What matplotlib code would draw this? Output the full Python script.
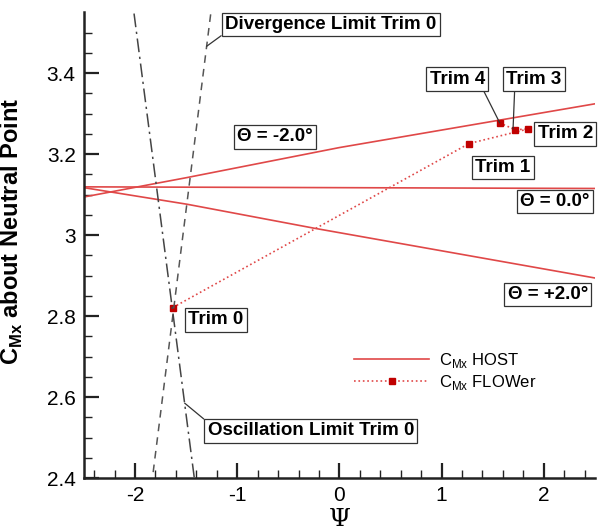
import matplotlib.pyplot as plt
import numpy as np

plt.rcParams['font.family'] = ['Liberation Sans', 'DejaVu Sans']
plt.rcParams['mathtext.fontset'] = 'custom'
plt.rcParams['mathtext.rm'] = 'Liberation Sans'
plt.rcParams['mathtext.bf'] = 'Liberation Sans:bold'
plt.rcParams['axes.unicode_minus'] = False

# HOST curves for the three collective settings
psi_m2 = [-2.5, -1.49, 0.0, 2.5]
cmx_m2 = [3.094, 3.142, 3.216, 3.324]
psi_0 = [-2.5, 2.5]
cmx_0 = [3.119, 3.115]
psi_p2 = [-2.5, -1.49, -0.25, 2.5]
cmx_p2 = [3.117, 3.076, 3.017, 2.894]

# FLOWer trim iterations 0..4
psi_flower = [-1.63, 1.27, 1.85, 1.72, 1.57]
cmx_flower = [2.821, 3.226, 3.262, 3.260, 3.277]

# stability limits (Trim 0)
psi_div = [-1.26, -1.83]
cmx_div = [3.545, 2.40]
psi_osc = [-2.01, -1.42]
cmx_osc = [3.547, 2.40]

red = '#e04848'

fig = plt.figure(figsize=(6.02, 5.31), dpi=100)
ax = fig.add_axes([0.1395, 0.0998, 0.8485, 0.877])

ax.plot(psi_m2, cmx_m2, color=red, lw=1.2, label=r'C$_{\mathregular{Mx}}$ HOST')
ax.plot(psi_0, cmx_0, color=red, lw=1.2)
ax.plot(psi_p2, cmx_p2, color=red, lw=1.2)
ax.plot(psi_flower, cmx_flower, color=red, lw=1.2, ls=':', marker='s', ms=4.5,
        mfc='#c00000', mec='#c00000', label=r'C$_{\mathregular{Mx}}$ FLOWer')
ax.plot(psi_div, cmx_div, color='#555555', lw=1.1, ls=(0, (5, 4)))
ax.plot(psi_osc, cmx_osc, color='#444444', lw=1.1, ls=(0, (9, 3, 1.5, 3)))

box = dict(boxstyle='square,pad=0.18', fc='white', ec='#333333', lw=0.9)
arrow = dict(arrowstyle='-', color='#333333', lw=0.9, shrinkA=0, shrinkB=0)

# label text, text position, target point (None = no leader), alignment
labels = ['Divergence Limit Trim 0', 'Oscillation Limit Trim 0',
          '\u0398 = -2.0\u00b0', '\u0398 = 0.0\u00b0', '\u0398 = +2.0\u00b0',
          'Trim 0', 'Trim 1', 'Trim 2', 'Trim 3', 'Trim 4']
text_xy = [(-1.12, 3.520), (-1.29, 2.517),
           (-1.0, 3.243), (2.11, 3.083), (2.04, 2.853),
           (-1.21, 2.791), (1.60, 3.167), (2.21, 3.250), (1.906, 3.385), (1.153, 3.385)]
target_xy = [(-1.30, 3.466), (-1.515, 2.585),
             None, None, None,
             None, None, None, (1.70, 3.262), (1.57, 3.277)]
aligns = ['left', 'left', 'left', 'center', 'center',
          'center', 'center', 'center', 'center', 'center']
relpos = [(0, 0), (0, 1), None, None, None, None, None, None, (0.15, 0), (0.95, 0)]

for lab, txy, tgt, ha, rp in zip(labels, text_xy, target_xy, aligns, relpos):
    if tgt is None:
        ax.text(txy[0], txy[1], lab, ha=ha, va='center', fontsize=13.5,
                fontweight='bold', bbox=box)
    else:
        ap = dict(arrow)
        ap['relpos'] = rp
        ax.annotate(lab, xy=tgt, xytext=txy, ha=ha, va='center', fontsize=13.5,
                    fontweight='bold', bbox=box, arrowprops=ap)

ax.set_xlim(-2.5, 2.5)
ax.set_ylim(2.4, 3.55)
ax.set_xticks([-2, -1, 0, 1, 2])
ax.set_yticks([2.4, 2.6, 2.8, 3.0, 3.2, 3.4])
ax.set_yticklabels(['2.4', '2.6', '2.8', '3', '3.2', '3.4'])
ax.set_xticks(np.arange(-2.4, 2.5, 0.2), minor=True)
ax.set_yticks(np.arange(2.45, 3.55, 0.05), minor=True)
ax.tick_params(which='major', direction='in', length=11, width=1.6, labelsize=15,
               pad=6, color='#222222')
ax.tick_params(which='minor', direction='in', length=6, width=1.0, color='#222222')
for s in ['top', 'right']:
    ax.spines[s].set_visible(False)
for s in ['left', 'bottom']:
    ax.spines[s].set_linewidth(1.8)
    ax.spines[s].set_color('#222222')

ax.set_ylabel(r'C$_{\mathbf{Mx}}$ about Neutral Point', fontsize=17,
              fontweight='bold')
ax.yaxis.set_label_coords(-0.115, 0.53)
ax.set_xlabel('\u03a8', fontsize=18, family='DejaVu Serif', labelpad=2)

ax.legend(loc='upper left', bbox_to_anchor=(0.5, 0.305), frameon=False, fontsize=12,
          handlelength=4.5, handletextpad=0.6, labelspacing=0.2)

fig.savefig('out.png', dpi=100)
